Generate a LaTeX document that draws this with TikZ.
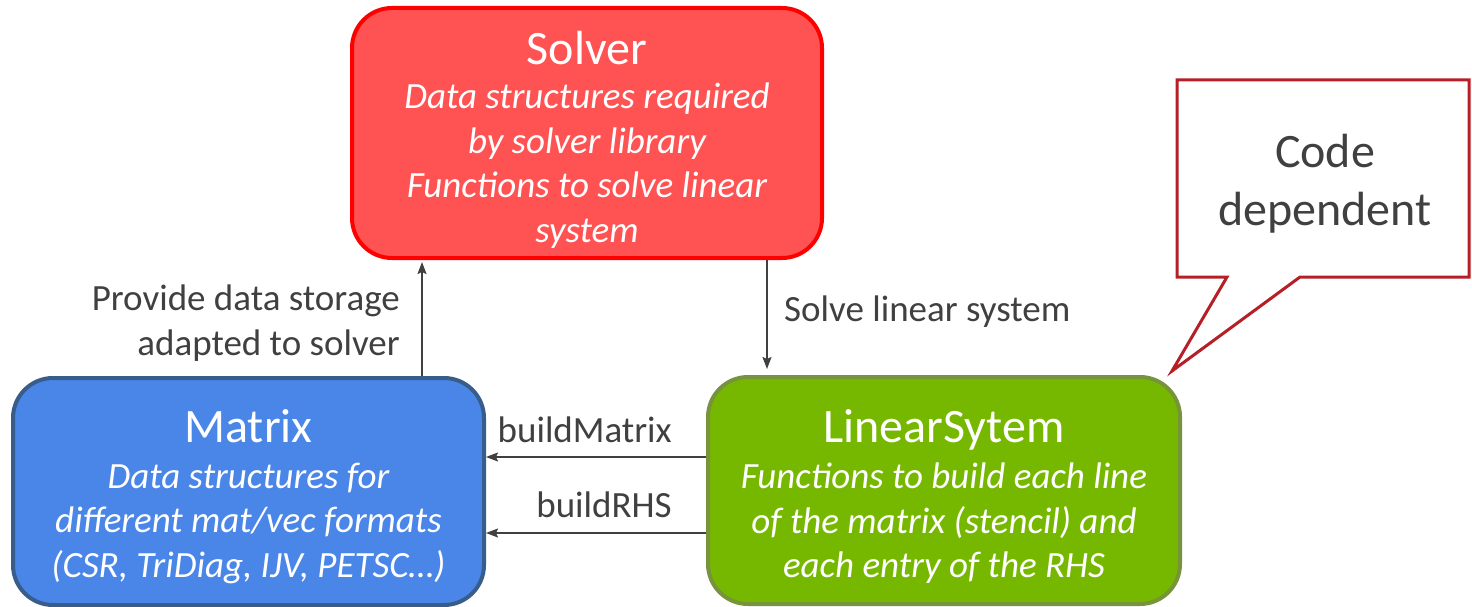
\documentclass[tikz,border=0pt]{standalone}
\usepackage{fontspec}
\setmainfont{Carlito}
\usetikzlibrary{arrows.meta}
\definecolor{solfill}{RGB}{255,82,82}
\definecolor{solline}{RGB}{255,0,0}
\definecolor{matfill}{RGB}{74,134,232}
\definecolor{matline}{RGB}{56,93,138}
\definecolor{linfill}{RGB}{118,184,0}
\definecolor{linline}{RGB}{119,147,60}
\definecolor{callline}{RGB}{180,32,38}
\definecolor{txtgray}{RGB}{64,64,64}
\newcommand{\mytitletxt}{\fontsize{48}{48}\selectfont\upshape}
\tikzset{
  box/.style={draw, line width=4pt, rounded corners=40pt, inner sep=0pt},
  boxtext/.style={text=white, align=center, inner sep=0pt, font=\fontsize{37}{44.5}\selectfont\itshape},
  conn/.style={draw=txtgray, line width=1.6pt, -{Stealth[length=12pt,width=9pt,inset=2pt]}},
  lbl/.style={text=txtgray, font=\fontsize{37}{45}\selectfont, inner sep=0pt},
}
\begin{document}
\begin{tikzpicture}[x=1pt,y=-1pt]
\useasboundingbox (0,0) rectangle (1472,607);
\node[box, draw=solline, fill=solfill, minimum width=470pt, minimum height=250pt] (solver) at (587,133) {};
\node[boxtext] (solvertxt) at (587,139.5)
  {{\mytitletxt Solver}\\[0pt]
   Data structures required\\ by solver library\\ Functions to solve linear\\ system};
\node[box, draw=matline, fill=matfill, minimum width=471pt, minimum height=227pt] (matrix) at (248.5,491.5) {};
\node[boxtext] (matrixtxt) at (248.5,496.5)
  {{\mytitletxt Matrix}\\[1.5pt]
   Data structures for\\ different mat/vec formats\\ (CSR, TriDiag, IJV, PETSC\ldots)};
\node[box, draw=linline, fill=linfill, minimum width=472pt, minimum height=227pt] (lin) at (944,490.5) {};
\node[boxtext] (lintxt) at (944,496.5)
  {{\mytitletxt LinearSytem}\\[1.5pt]
   Functions to build each line\\ of the matrix (stencil) and\\ each entry of the RHS};
% connectors
\coordinate (upS) at (422,376);
\coordinate (upE) at (422,262);
\draw[conn] (upS) -- (upE);
\coordinate (dnS) at (767,260);
\coordinate (dnE) at (767,369);
\draw[conn] (dnS) -- (dnE);
\draw[conn] (lin.west |- 0,457) -- (matrix.east |- 0,457);
\draw[conn] (lin.west |- 0,533) -- (matrix.east |- 0,533);
% labels
\node[lbl, align=right, anchor=east] (provide) at (400,323) {Provide data storage\\adapted to solver};
\node[lbl, anchor=west] (solvelbl) at (784,312) {Solve linear system};
\node[lbl, anchor=base east] (bm) at (672,442) {buildMatrix};
\node[lbl, anchor=base east] (brhs) at (672,517) {buildRHS};
% callout
\draw[draw=callline, line width=3pt, fill=white, line join=miter]
  (1177,80) -- (1469,80) -- (1469,277) -- (1300,277) -- (1172,371) -- (1227,277) -- (1177,277) -- cycle;
\node[text=txtgray, align=center, font=\fontsize{48}{58}\selectfont] (code) at (1325,184) {Code\\dependent};
\end{tikzpicture}
\end{document}
